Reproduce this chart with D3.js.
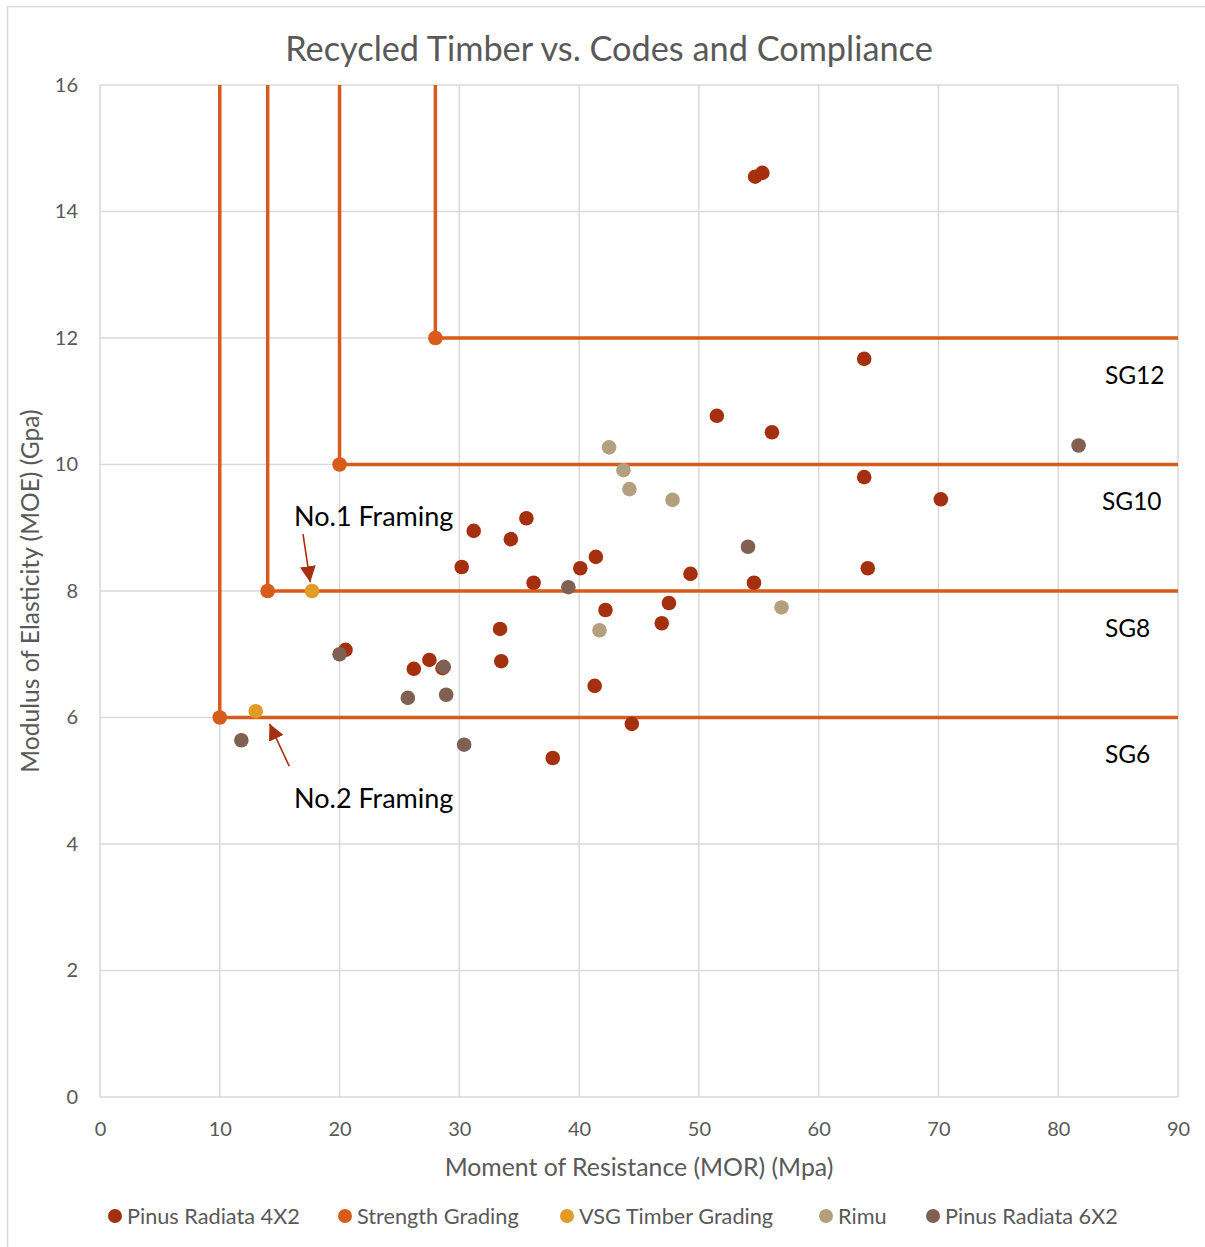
<!DOCTYPE html>
<html>
<head>
<meta charset="utf-8">
<script src="https://cdn.jsdelivr.net/npm/d3@7/dist/d3.min.js"></script>
<style>
  html, body { margin: 0; padding: 0; background: #fff; }
  svg { display: block; font-family: Lato, "Open Sans", sans-serif; }
</style>
</head>
<body>
<svg id="chart" width="1205" height="1247"></svg>
<script>
// ---- data ----
const pinus4x2MOR = [54.7, 55.3, 63.8, 51.5, 56.1, 63.8, 70.2, 31.2, 35.6, 34.3, 30.2, 36.2, 40.1, 41.4, 49.3, 54.6, 64.1, 42.2, 47.5, 46.9, 33.4, 33.5, 20.5, 26.2, 27.5, 28.6, 41.3, 44.4, 37.8];
const pinus4x2MOE = [14.55, 14.61, 11.67, 10.77, 10.51, 9.80, 9.45, 8.95, 9.15, 8.82, 8.38, 8.13, 8.36, 8.54, 8.27, 8.13, 8.36, 7.70, 7.81, 7.49, 7.40, 6.89, 7.07, 6.77, 6.91, 6.78, 6.50, 5.90, 5.36];

const rimuMOR = [42.5, 43.7, 44.2, 47.8, 41.7, 56.9];
const rimuMOE = [10.27, 9.91, 9.61, 9.44, 7.38, 7.74];

const pinus6x2MOR = [28.7, 25.7, 28.9, 30.4, 39.1, 54.1, 20.0, 11.8, 81.7];
const pinus6x2MOE = [6.80, 6.31, 6.36, 5.57, 8.06, 8.70, 7.00, 5.64, 10.30];

const vsgMOR = [13.0, 17.7];
const vsgMOE = [6.10, 8.00];

// structural grades: minimum MOR / MOE
const gradeLabels = ["SG6", "SG8", "SG10", "SG12"];
const gradeMOR = [10, 14, 20, 28];
const gradeMOE = [6, 8, 10, 12];

const xTicks = [0, 10, 20, 30, 40, 50, 60, 70, 80, 90];
const yTicks = [0, 2, 4, 6, 8, 10, 12, 14, 16];

const seriesNames = ["Pinus Radiata 4X2", "Strength Grading", "VSG Timber Grading", "Rimu", "Pinus Radiata 6X2"];
const seriesColors = ["#a5300f", "#d75b1b", "#e39b27", "#b4a07f", "#806053"];

// ---- layout ----
const svg = d3.select("#chart");
const W = 1205, H = 1247;
const plot = { left: 100, top: 85, right: 1178, bottom: 1097 };

const x = d3.scaleLinear().domain([0, 90]).range([plot.left, plot.right]);
const y = d3.scaleLinear().domain([0, 16]).range([plot.bottom, plot.top]);

const textGray = "#595959";
const gridGray = "#d9d9d9";

// outer chart frame
svg.append("rect")
  .attr("x", 7.5).attr("y", 6.5).attr("width", W).attr("height", H)
  .attr("fill", "none").attr("stroke", gridGray).attr("stroke-width", 1.5);

// title
svg.append("text")
  .attr("x", 609).attr("y", 61)
  .attr("text-anchor", "middle")
  .attr("fill", textGray)
  .attr("font-size", 34.3)
  .text("Recycled Timber vs. Codes and Compliance");

// gridlines
const grid = svg.append("g");
grid.selectAll(".hg").data(yTicks).join("line")
  .attr("x1", plot.left).attr("x2", plot.right)
  .attr("y1", d => y(d)).attr("y2", d => y(d))
  .attr("stroke", gridGray).attr("stroke-width", 1.5);
grid.selectAll(".vg").data(xTicks).join("line")
  .attr("y1", plot.top).attr("y2", plot.bottom)
  .attr("x1", d => x(d)).attr("x2", d => x(d))
  .attr("stroke", gridGray).attr("stroke-width", 1.5);

// axes (labels only; lines come from the grid)
const xAxis = svg.append("g")
  .attr("transform", `translate(0,${plot.bottom})`)
  .call(d3.axisBottom(x).tickValues(xTicks).tickSize(0).tickPadding(29));
const yAxis = svg.append("g")
  .attr("transform", `translate(${plot.left},0)`)
  .call(d3.axisLeft(y).tickValues(yTicks).tickSize(0).tickPadding(22));
[xAxis, yAxis].forEach(a => {
  a.select(".domain").remove();
  a.selectAll("text").attr("fill", textGray).attr("font-size", 20)
    .attr("font-family", "Lato, sans-serif");
});
xAxis.selectAll("text").attr("dy", "0.5em");

// axis titles
svg.append("text")
  .attr("x", 639).attr("y", 1176)
  .attr("text-anchor", "middle").attr("fill", textGray).attr("font-size", 24.8)
  .text("Moment of Resistance (MOR) (Mpa)");
svg.append("text")
  .attr("transform", `translate(39,${591}) rotate(-90)`)
  .attr("text-anchor", "middle").attr("fill", textGray).attr("font-size", 24.6)
  .text("Modulus of Elasticity (MOE) (Gpa)");

// grade boundary lines: up from each grade point and across to the right
const grades = gradeMOR.map((m, i) => ({ mor: m, moe: gradeMOE[i], label: gradeLabels[i] }));
const gLines = svg.append("g").attr("stroke", seriesColors[1]).attr("stroke-width", 3.5).attr("fill", "none");
gLines.selectAll(".vl").data(grades).join("line")
  .attr("x1", d => x(d.mor)).attr("x2", d => x(d.mor))
  .attr("y1", d => y(d.moe)).attr("y2", y(16));
gLines.selectAll(".hl").data(grades).join("line")
  .attr("x1", d => x(d.mor)).attr("x2", x(90))
  .attr("y1", d => y(d.moe)).attr("y2", d => y(d.moe));

// grade labels
svg.append("g").selectAll("text").data(grades).join("text")
  .attr("x", d => x(d.label === "SG10" ? 83.65 : 83.9)).attr("y", d => y(d.moe - 0.72))
  .attr("fill", "#000").attr("font-size", 24.5)
  .text(d => d.label);

// scatter series
function dots(mor, moe, color) {
  svg.append("g").selectAll("circle").data(mor.map((m, i) => [m, moe[i]])).join("circle")
    .attr("cx", d => x(d[0])).attr("cy", d => y(d[1])).attr("r", 7.3)
    .attr("fill", color);
}
dots(pinus4x2MOR, pinus4x2MOE, seriesColors[0]);
dots(gradeMOR, gradeMOE, seriesColors[1]);
dots(vsgMOR, vsgMOE, seriesColors[2]);
dots(rimuMOR, rimuMOE, seriesColors[3]);
dots(pinus6x2MOR, pinus6x2MOE, seriesColors[4]);

// framing annotations with arrows
const arrowColor = "#a5300f";
svg.append("defs").append("marker")
  .attr("id", "head").attr("viewBox", "0 0 10 10")
  .attr("refX", 10).attr("refY", 5)
  .attr("markerWidth", 16).attr("markerHeight", 16)
  .attr("markerUnits", "userSpaceOnUse")
  .attr("orient", "auto")
  .append("path").attr("d", "M0,0 L10,5 L0,10 Z").attr("fill", arrowColor);

const notes = [
  { text: "No.1 Framing", tx: 16.2, ty: 9.02, from: [16.95, 8.90], to: [17.55, 8.14] },
  { text: "No.2 Framing", tx: 16.2, ty: 4.57, from: [15.80, 5.23], to: [14.15, 5.90] }
];
notes.forEach(n => {
  svg.append("text")
    .attr("x", x(n.tx)).attr("y", y(n.ty))
    .attr("fill", "#000").attr("font-size", 27)
    .text(n.text);
  svg.append("line")
    .attr("x1", x(n.from[0])).attr("y1", y(n.from[1]))
    .attr("x2", x(n.to[0])).attr("y2", y(n.to[1]))
    .attr("stroke", arrowColor).attr("stroke-width", 1.6)
    .attr("marker-end", "url(#head)");
});

// legend
const legendX = [115, 345, 567, 826, 933];
const legend = svg.append("g");
seriesNames.forEach((name, i) => {
  legend.append("circle").attr("cx", legendX[i]).attr("cy", 1216).attr("r", 7).attr("fill", seriesColors[i]);
  legend.append("text").attr("x", legendX[i] + 12).attr("y", 1223.5)
    .attr("fill", textGray).attr("font-size", 21.7).text(name);
});
</script>
</body>
</html>
